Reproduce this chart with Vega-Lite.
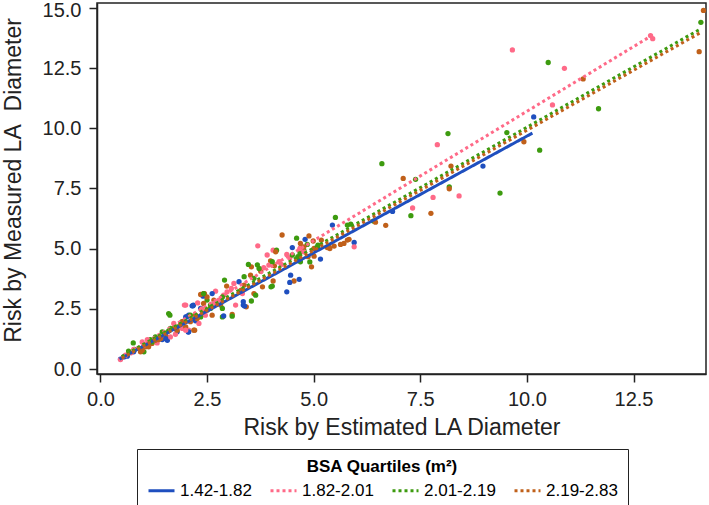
{
  "$schema": "https://vega.github.io/schema/vega-lite/v6.json",
  "width": 609,
  "height": 371,
  "autosize": {"type": "none"},
  "padding": {"left": 97, "top": 3, "right": 3, "bottom": 131},
  "background": "white",
  "config": {
    "font": "Liberation Sans",
    "view": {"stroke": "#222", "strokeWidth": 1.5},
    "axis": {
      "grid": false,
      "domainColor": "#222",
      "domainWidth": 1.5,
      "tickColor": "#222",
      "tickWidth": 1.5,
      "tickSize": 8,
      "labelFontSize": 20,
      "labelColor": "#222",
      "labelFlush": false,
      "titleFontSize": 23,
      "titleFontWeight": "normal",
      "titleColor": "#222"
    },
    "legend": {
      "orient": "none", "legendX": 40, "legendY": 446, "direction": "horizontal", "columns": 4,
      "titleFontSize": 17, "titleFontWeight": "bold", "titleAnchor": "middle", "titleColor": "black", "titlePadding": 0,
      "labelFontSize": 17, "labelColor": "black", "symbolType": "stroke", "symbolSize": 676, "symbolStrokeWidth": 3,
      "labelOffset": 4, "columnPadding": 12, "padding": 10, "strokeColor": "#222"
    }
  },
  "datasets": {
    "pts": [
      {"est": 10.16, "meas": 10.47, "bsa": "1.42-1.82"},
      {"est": 8.97, "meas": 8.43, "bsa": "1.42-1.82"},
      {"est": 6.85, "meas": 6.55, "bsa": "1.42-1.82"},
      {"est": 5.95, "meas": 5.26, "bsa": "1.42-1.82"},
      {"est": 5.44, "meas": 5.98, "bsa": "1.42-1.82"},
      {"est": 9.66, "meas": 13.25, "bsa": "1.82-2.01"},
      {"est": 10.88, "meas": 12.49, "bsa": "1.82-2.01"},
      {"est": 10.6, "meas": 10.97, "bsa": "1.82-2.01"},
      {"est": 7.9, "meas": 9.32, "bsa": "1.82-2.01"},
      {"est": 8.41, "meas": 7.19, "bsa": "1.82-2.01"},
      {"est": 7.32, "meas": 6.69, "bsa": "1.82-2.01"},
      {"est": 7.8, "meas": 7.13, "bsa": "1.82-2.01"},
      {"est": 5.95, "meas": 5.08, "bsa": "1.82-2.01"},
      {"est": 12.9, "meas": 13.85, "bsa": "1.82-2.01"},
      {"est": 12.95, "meas": 13.72, "bsa": "1.82-2.01"},
      {"est": 10.5, "meas": 12.73, "bsa": "2.01-2.19"},
      {"est": 11.68, "meas": 10.81, "bsa": "2.01-2.19"},
      {"est": 9.53, "meas": 9.82, "bsa": "2.01-2.19"},
      {"est": 10.3, "meas": 9.09, "bsa": "2.01-2.19"},
      {"est": 8.15, "meas": 9.78, "bsa": "2.01-2.19"},
      {"est": 6.6, "meas": 8.53, "bsa": "2.01-2.19"},
      {"est": 9.37, "meas": 7.31, "bsa": "2.01-2.19"},
      {"est": 8.18, "meas": 7.57, "bsa": "2.01-2.19"},
      {"est": 7.28, "meas": 6.37, "bsa": "2.01-2.19"},
      {"est": 7.39, "meas": 7.88, "bsa": "2.01-2.19"},
      {"est": 14.08, "meas": 14.4, "bsa": "2.01-2.19"},
      {"est": 5.87, "meas": 6.02, "bsa": "2.01-2.19"},
      {"est": 6.4, "meas": 6.15, "bsa": "2.01-2.19"},
      {"est": 11.32, "meas": 12.05, "bsa": "2.19-2.83"},
      {"est": 9.93, "meas": 9.44, "bsa": "2.19-2.83"},
      {"est": 8.22, "meas": 8.43, "bsa": "2.19-2.83"},
      {"est": 7.1, "meas": 7.92, "bsa": "2.19-2.83"},
      {"est": 8.18, "meas": 7.49, "bsa": "2.19-2.83"},
      {"est": 7.75, "meas": 6.47, "bsa": "2.19-2.83"},
      {"est": 6.69, "meas": 5.97, "bsa": "2.19-2.83"},
      {"est": 14.14, "meas": 14.89, "bsa": "2.19-2.83"},
      {"est": 14.04, "meas": 13.18, "bsa": "2.19-2.83"},
      {"est": 6.45, "meas": 6.1, "bsa": "2.19-2.83"},
      {"est": 4.8, "meas": 5.39, "bsa": "1.42-1.82"},
      {"est": 4.5, "meas": 5.05, "bsa": "1.42-1.82"},
      {"est": 5.16, "meas": 4.57, "bsa": "1.42-1.82"},
      {"est": 4.6, "meas": 5.44, "bsa": "2.01-2.19"},
      {"est": 5.1, "meas": 5.15, "bsa": "2.01-2.19"},
      {"est": 5.09, "meas": 5.04, "bsa": "2.01-2.19"},
      {"est": 4.77, "meas": 4.94, "bsa": "2.01-2.19"},
      {"est": 4.68, "meas": 4.83, "bsa": "2.01-2.19"},
      {"est": 4.63, "meas": 4.67, "bsa": "2.01-2.19"},
      {"est": 4.91, "meas": 4.45, "bsa": "2.01-2.19"},
      {"est": 4.69, "meas": 4.46, "bsa": "2.01-2.19"},
      {"est": 4.89, "meas": 5.53, "bsa": "2.19-2.83"},
      {"est": 4.99, "meas": 5.32, "bsa": "2.19-2.83"},
      {"est": 5.18, "meas": 5.36, "bsa": "2.19-2.83"},
      {"est": 5.83, "meas": 5.39, "bsa": "2.19-2.83"},
      {"est": 5.71, "meas": 5.22, "bsa": "2.19-2.83"},
      {"est": 5.63, "meas": 5.18, "bsa": "2.19-2.83"},
      {"est": 5.48, "meas": 5.11, "bsa": "2.19-2.83"},
      {"est": 5.38, "meas": 5.01, "bsa": "2.19-2.83"},
      {"est": 5.32, "meas": 5.05, "bsa": "2.19-2.83"},
      {"est": 4.69, "meas": 5.01, "bsa": "2.19-2.83"},
      {"est": 4.87, "meas": 4.67, "bsa": "2.19-2.83"},
      {"est": 5.01, "meas": 4.69, "bsa": "2.19-2.83"},
      {"est": 4.95, "meas": 4.25, "bsa": "2.19-2.83"},
      {"est": 4.26, "meas": 5.57, "bsa": "2.19-2.83"},
      {"est": 3.99, "meas": 4.5, "bsa": "2.19-2.83"},
      {"est": 3.54, "meas": 4.25, "bsa": "2.19-2.83"},
      {"est": 3.76, "meas": 4.07, "bsa": "2.19-2.83"},
      {"est": 4.08, "meas": 4.29, "bsa": "2.19-2.83"},
      {"est": 4.54, "meas": 3.66, "bsa": "2.19-2.83"},
      {"est": 4.05, "meas": 3.66, "bsa": "2.19-2.83"},
      {"est": 3.52, "meas": 3.9, "bsa": "2.19-2.83"},
      {"est": 3.8, "meas": 3.42, "bsa": "2.19-2.83"},
      {"est": 3.37, "meas": 3.49, "bsa": "2.19-2.83"},
      {"est": 3.3, "meas": 3.28, "bsa": "2.19-2.83"},
      {"est": 2.96, "meas": 3.45, "bsa": "2.19-2.83"},
      {"est": 2.44, "meas": 3.14, "bsa": "2.19-2.83"},
      {"est": 2.66, "meas": 2.87, "bsa": "2.19-2.83"},
      {"est": 2.82, "meas": 2.66, "bsa": "2.19-2.83"},
      {"est": 3.6, "meas": 3.14, "bsa": "2.19-2.83"},
      {"est": 3.42, "meas": 2.59, "bsa": "2.19-2.83"},
      {"est": 3.09, "meas": 2.27, "bsa": "2.19-2.83"},
      {"est": 2.42, "meas": 2.38, "bsa": "2.19-2.83"},
      {"est": 3.69, "meas": 5.12, "bsa": "1.82-2.01"},
      {"est": 4.68, "meas": 5.01, "bsa": "1.82-2.01"},
      {"est": 4.05, "meas": 4.94, "bsa": "1.82-2.01"},
      {"est": 3.91, "meas": 4.74, "bsa": "1.82-2.01"},
      {"est": 4.37, "meas": 4.76, "bsa": "1.82-2.01"},
      {"est": 4.19, "meas": 4.46, "bsa": "1.82-2.01"},
      {"est": 4.44, "meas": 4.62, "bsa": "1.82-2.01"},
      {"est": 4.77, "meas": 4.87, "bsa": "1.82-2.01"},
      {"est": 3.83, "meas": 4.21, "bsa": "1.82-2.01"},
      {"est": 3.95, "meas": 4.32, "bsa": "1.82-2.01"},
      {"est": 4.24, "meas": 4.35, "bsa": "1.82-2.01"},
      {"est": 3.33, "meas": 3.14, "bsa": "1.82-2.01"},
      {"est": 3.13, "meas": 3.56, "bsa": "1.82-2.01"},
      {"est": 3.07, "meas": 3.35, "bsa": "1.82-2.01"},
      {"est": 2.97, "meas": 3.21, "bsa": "1.82-2.01"},
      {"est": 2.7, "meas": 3.24, "bsa": "1.82-2.01"},
      {"est": 2.78, "meas": 2.87, "bsa": "1.82-2.01"},
      {"est": 2.89, "meas": 3.07, "bsa": "1.82-2.01"},
      {"est": 3.17, "meas": 2.66, "bsa": "1.82-2.01"},
      {"est": 4.85, "meas": 5.18, "bsa": "2.01-2.19"},
      {"est": 4.13, "meas": 4.94, "bsa": "2.01-2.19"},
      {"est": 4.5, "meas": 4.74, "bsa": "2.01-2.19"},
      {"est": 4.66, "meas": 4.6, "bsa": "2.01-2.19"},
      {"est": 3.47, "meas": 4.35, "bsa": "2.01-2.19"},
      {"est": 3.72, "meas": 4.18, "bsa": "2.01-2.19"},
      {"est": 4.03, "meas": 3.45, "bsa": "2.01-2.19"},
      {"est": 3.6, "meas": 3.77, "bsa": "2.01-2.19"},
      {"est": 3.37, "meas": 3.84, "bsa": "2.01-2.19"},
      {"est": 2.91, "meas": 3.7, "bsa": "2.01-2.19"},
      {"est": 2.86, "meas": 3.0, "bsa": "2.01-2.19"},
      {"est": 2.58, "meas": 2.66, "bsa": "2.01-2.19"},
      {"est": 3.54, "meas": 2.83, "bsa": "2.01-2.19"},
      {"est": 2.86, "meas": 2.52, "bsa": "2.01-2.19"},
      {"est": 3.68, "meas": 4.33, "bsa": "2.01-2.19"},
      {"est": 4.0, "meas": 3.42, "bsa": "2.01-2.19"},
      {"est": 3.64, "meas": 3.07, "bsa": "2.01-2.19"},
      {"est": 2.86, "meas": 2.17, "bsa": "2.01-2.19"},
      {"est": 3.09, "meas": 2.2, "bsa": "2.01-2.19"},
      {"est": 4.46, "meas": 3.9, "bsa": "1.42-1.82"},
      {"est": 4.66, "meas": 3.73, "bsa": "1.42-1.82"},
      {"est": 4.37, "meas": 3.21, "bsa": "1.42-1.82"},
      {"est": 3.25, "meas": 3.63, "bsa": "1.42-1.82"},
      {"est": 2.62, "meas": 3.14, "bsa": "1.42-1.82"},
      {"est": 3.35, "meas": 2.66, "bsa": "1.42-1.82"},
      {"est": 2.89, "meas": 2.21, "bsa": "1.42-1.82"},
      {"est": 3.35, "meas": 2.8, "bsa": "1.42-1.82"},
      {"est": 4.44, "meas": 3.6, "bsa": "1.42-1.82"},
      {"est": 3.38, "meas": 2.62, "bsa": "1.42-1.82"},
      {"est": 2.41, "meas": 3.03, "bsa": "1.42-1.82"},
      {"est": 0.47, "meas": 0.42, "bsa": "1.42-1.82"},
      {"est": 0.55, "meas": 0.51, "bsa": "1.42-1.82"},
      {"est": 0.63, "meas": 0.54, "bsa": "1.42-1.82"},
      {"est": 0.78, "meas": 0.72, "bsa": "1.42-1.82"},
      {"est": 1.45, "meas": 1.23, "bsa": "1.42-1.82"},
      {"est": 1.57, "meas": 1.2, "bsa": "1.42-1.82"},
      {"est": 1.8, "meas": 1.55, "bsa": "1.42-1.82"},
      {"est": 2.02, "meas": 2.17, "bsa": "1.42-1.82"},
      {"est": 2.18, "meas": 2.66, "bsa": "1.42-1.82"},
      {"est": 2.35, "meas": 2.52, "bsa": "1.42-1.82"},
      {"est": 2.06, "meas": 1.54, "bsa": "1.42-1.82"},
      {"est": 2.15, "meas": 2.63, "bsa": "1.42-1.82"},
      {"est": 2.07, "meas": 2.24, "bsa": "1.42-1.82"},
      {"est": 2.23, "meas": 2.01, "bsa": "1.42-1.82"},
      {"est": 0.59, "meas": 0.58, "bsa": "1.82-2.01"},
      {"est": 0.72, "meas": 0.68, "bsa": "1.82-2.01"},
      {"est": 0.9, "meas": 0.86, "bsa": "1.82-2.01"},
      {"est": 0.98, "meas": 1.13, "bsa": "1.82-2.01"},
      {"est": 1.1, "meas": 1.07, "bsa": "1.82-2.01"},
      {"est": 1.13, "meas": 0.96, "bsa": "1.82-2.01"},
      {"est": 1.25, "meas": 1.2, "bsa": "1.82-2.01"},
      {"est": 1.33, "meas": 1.09, "bsa": "1.82-2.01"},
      {"est": 1.49, "meas": 1.34, "bsa": "1.82-2.01"},
      {"est": 1.64, "meas": 1.34, "bsa": "1.82-2.01"},
      {"est": 1.76, "meas": 1.45, "bsa": "1.82-2.01"},
      {"est": 1.92, "meas": 1.69, "bsa": "1.82-2.01"},
      {"est": 1.97, "meas": 2.66, "bsa": "1.82-2.01"},
      {"est": 2.07, "meas": 1.62, "bsa": "1.82-2.01"},
      {"est": 2.28, "meas": 2.75, "bsa": "1.82-2.01"},
      {"est": 2.31, "meas": 1.9, "bsa": "1.82-2.01"},
      {"est": 2.46, "meas": 2.24, "bsa": "1.82-2.01"},
      {"est": 2.66, "meas": 2.73, "bsa": "1.82-2.01"},
      {"est": 2.38, "meas": 2.5, "bsa": "1.82-2.01"},
      {"est": 0.77, "meas": 1.09, "bsa": "2.01-2.19"},
      {"est": 0.66, "meas": 0.75, "bsa": "2.01-2.19"},
      {"est": 0.8, "meas": 0.82, "bsa": "2.01-2.19"},
      {"est": 1.02, "meas": 0.72, "bsa": "2.01-2.19"},
      {"est": 1.17, "meas": 1.23, "bsa": "2.01-2.19"},
      {"est": 1.29, "meas": 1.34, "bsa": "2.01-2.19"},
      {"est": 1.49, "meas": 1.51, "bsa": "2.01-2.19"},
      {"est": 1.6, "meas": 1.59, "bsa": "2.01-2.19"},
      {"est": 1.63, "meas": 2.24, "bsa": "2.01-2.19"},
      {"est": 1.6, "meas": 2.31, "bsa": "2.01-2.19"},
      {"est": 1.8, "meas": 1.76, "bsa": "2.01-2.19"},
      {"est": 1.92, "meas": 1.97, "bsa": "2.01-2.19"},
      {"est": 2.35, "meas": 2.17, "bsa": "2.01-2.19"},
      {"est": 2.5, "meas": 2.87, "bsa": "2.01-2.19"},
      {"est": 2.58, "meas": 2.52, "bsa": "2.01-2.19"},
      {"est": 0.98, "meas": 0.79, "bsa": "2.19-2.83"},
      {"est": 1.06, "meas": 0.93, "bsa": "2.19-2.83"},
      {"est": 1.21, "meas": 1.07, "bsa": "2.19-2.83"},
      {"est": 1.37, "meas": 1.23, "bsa": "2.19-2.83"},
      {"est": 1.53, "meas": 1.41, "bsa": "2.19-2.83"},
      {"est": 1.72, "meas": 1.69, "bsa": "2.19-2.83"},
      {"est": 1.88, "meas": 1.9, "bsa": "2.19-2.83"},
      {"est": 2.0, "meas": 1.76, "bsa": "2.19-2.83"},
      {"est": 2.11, "meas": 1.97, "bsa": "2.19-2.83"},
      {"est": 2.19, "meas": 1.62, "bsa": "2.19-2.83"},
      {"est": 2.27, "meas": 2.1, "bsa": "2.19-2.83"},
      {"est": 2.42, "meas": 3.14, "bsa": "2.19-2.83"},
      {"est": 2.5, "meas": 2.45, "bsa": "2.19-2.83"},
      {"est": 2.62, "meas": 2.24, "bsa": "2.19-2.83"},
      {"est": 2.35, "meas": 3.1, "bsa": "2.19-2.83"},
      {"est": 0.47, "meas": 0.4, "bsa": "1.82-2.01"},
      {"est": 0.78, "meas": 0.82, "bsa": "1.82-2.01"},
      {"est": 0.94, "meas": 0.72, "bsa": "2.19-2.83"},
      {"est": 1.02, "meas": 1.0, "bsa": "1.82-2.01"},
      {"est": 1.13, "meas": 0.93, "bsa": "2.19-2.83"},
      {"est": 1.21, "meas": 1.13, "bsa": "2.01-2.19"},
      {"est": 1.1, "meas": 1.23, "bsa": "1.82-2.01"},
      {"est": 1.29, "meas": 1.2, "bsa": "2.19-2.83"},
      {"est": 1.45, "meas": 1.55, "bsa": "2.01-2.19"},
      {"est": 1.53, "meas": 1.27, "bsa": "1.42-1.82"},
      {"est": 1.41, "meas": 1.27, "bsa": "2.19-2.83"},
      {"est": 1.72, "meas": 1.9, "bsa": "1.82-2.01"},
      {"est": 1.64, "meas": 1.69, "bsa": "2.01-2.19"},
      {"est": 1.8, "meas": 1.62, "bsa": "2.19-2.83"},
      {"est": 2.0, "meas": 2.17, "bsa": "1.42-1.82"},
      {"est": 1.92, "meas": 1.97, "bsa": "2.19-2.83"},
      {"est": 2.11, "meas": 2.24, "bsa": "2.01-2.19"},
      {"est": 2.23, "meas": 2.24, "bsa": "2.19-2.83"},
      {"est": 2.0, "meas": 2.66, "bsa": "1.82-2.01"},
      {"est": 2.17, "meas": 2.63, "bsa": "1.42-1.82"},
      {"est": 2.42, "meas": 2.73, "bsa": "2.19-2.83"},
      {"est": 2.5, "meas": 3.0, "bsa": "2.19-2.83"},
      {"est": 2.42, "meas": 3.14, "bsa": "2.01-2.19"},
      {"est": 2.07, "meas": 1.55, "bsa": "1.42-1.82"},
      {"est": 2.21, "meas": 1.62, "bsa": "2.19-2.83"},
      {"est": 2.0, "meas": 1.62, "bsa": "1.82-2.01"},
      {"est": 5.51, "meas": 6.3, "bsa": "2.01-2.19"},
      {"est": 4.03, "meas": 4.46, "bsa": "2.01-2.19"},
      {"est": 4.11, "meas": 4.87, "bsa": "2.19-2.83"},
      {"est": 4.69, "meas": 5.22, "bsa": "2.19-2.83"},
      {"est": 4.77, "meas": 5.08, "bsa": "2.19-2.83"},
      {"est": 5.01, "meas": 5.01, "bsa": "2.19-2.83"},
      {"est": 5.36, "meas": 5.08, "bsa": "2.19-2.83"},
      {"est": 5.79, "meas": 5.36, "bsa": "2.19-2.83"},
      {"est": 5.79, "meas": 5.98, "bsa": "2.01-2.19"}
    ],
    "fits": [
      {"est": 0.45, "meas": 0.42, "bsa": "1.42-1.82"},
      {"est": 10.13, "meas": 9.8, "bsa": "1.42-1.82"},
      {"est": 0.5, "meas": 0.5, "bsa": "1.82-2.01"},
      {"est": 12.93, "meas": 13.85, "bsa": "1.82-2.01"},
      {"est": 0.5, "meas": 0.52, "bsa": "2.01-2.19"},
      {"est": 14.05, "meas": 14.1, "bsa": "2.01-2.19"},
      {"est": 0.5, "meas": 0.45, "bsa": "2.19-2.83"},
      {"est": 14.05, "meas": 13.95, "bsa": "2.19-2.83"}
    ]
  },
  "layer": [
    {
      "data": {"name": "pts"},
      "mark": {"type": "circle", "size": 28, "opacity": 1},
      "encoding": {
        "x": {"field": "est", "type": "quantitative", "scale": {"domain": [-0.08, 14.2], "nice": false, "zero": false},
              "axis": {"title": "Risk by Estimated LA Diameter", "values": [0, 2.5, 5, 7.5, 10, 12.5], "format": ".1f", "labelPadding": 7, "titlePadding": 7}},
        "y": {"field": "meas", "type": "quantitative", "scale": {"domain": [-0.2, 15.2], "nice": false, "zero": false},
              "axis": {"title": "Risk by Measured LA\u00a0 Diameter", "values": [0, 2.5, 5, 7.5, 10, 12.5, 15], "format": ".1f", "labelPadding": 8, "titlePadding": 17, "titleY": 177,
                       "labelOffset": {"condition": {"test": "datum.value === 15", "value": 3}, "value": 0}}},
        "color": {"field": "bsa", "type": "nominal", "title": "BSA Quartiles (m²)",
                  "scale": {"domain": ["1.42-1.82", "1.82-2.01", "2.01-2.19", "2.19-2.83"], "range": ["#1f4fbf", "#ff6a88", "#3d9b0f", "#c0601a"]}}
      }
    },
    {
      "data": {"name": "fits"},
      "mark": {"type": "line", "strokeWidth": 3, "strokeCap": "butt"},
      "encoding": {
        "x": {"field": "est", "type": "quantitative"},
        "y": {"field": "meas", "type": "quantitative"},
        "color": {"field": "bsa", "type": "nominal", "title": "BSA Quartiles (m²)"},
        "strokeDash": {"field": "bsa", "type": "nominal", "title": "BSA Quartiles (m²)",
                       "scale": {"domain": ["1.42-1.82", "1.82-2.01", "2.01-2.19", "2.19-2.83"], "range": [[1, 0], [3, 3], [3, 3], [3, 3]]}}
      }
    }
  ]
}
